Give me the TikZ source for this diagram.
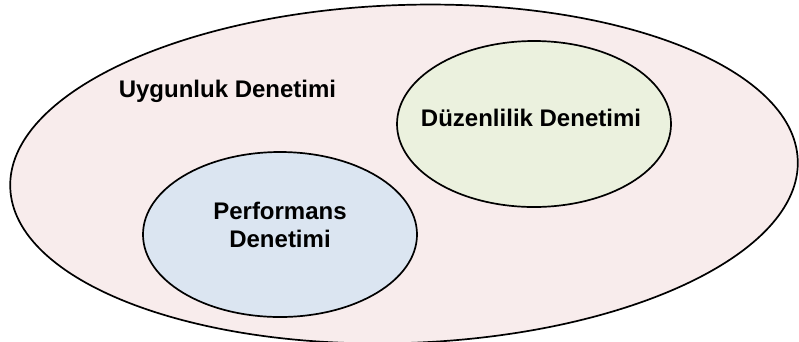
\documentclass[tikz,border=0pt]{standalone}
\usepackage{fontspec}
\setmainfont{Liberation Sans}
\usetikzlibrary{shapes.geometric}
\definecolor{outerfill}{RGB}{248,236,236}
\definecolor{greenfill}{RGB}{235,241,222}
\definecolor{bluefill}{RGB}{219,229,241}
\begin{document}
\begin{tikzpicture}[x=1pt,y=-1pt,
  region/.style={ellipse, draw=black, line width=1.7pt, inner sep=0pt, outer sep=0pt},
  lbl/.style={font=\fontsize{24}{27.5}\selectfont\bfseries, align=center, inner sep=0pt}]
\useasboundingbox (0,0) rectangle (799,341);
% outer region
\node[region, fill=outerfill, minimum width=788pt, minimum height=338pt, rotate=2] (uyg) at (404,174) {};
% inner regions
\node[region, fill=greenfill, minimum width=274pt, minimum height=166pt] (duz) at (534,124) {};
\node[region, fill=bluefill, minimum width=274pt, minimum height=165pt] (perf) at (280,234.5) {};
% labels
\node[lbl] (uyglbl) at (227.5,91.5) {Uygunluk Denetimi};
\node[lbl] (duzlbl) at (531,117.5) {Düzenlilik Denetimi};
\node[lbl] (perflbl) at (280,225) {Performans\\Denetimi};
\end{tikzpicture}
\end{document}
